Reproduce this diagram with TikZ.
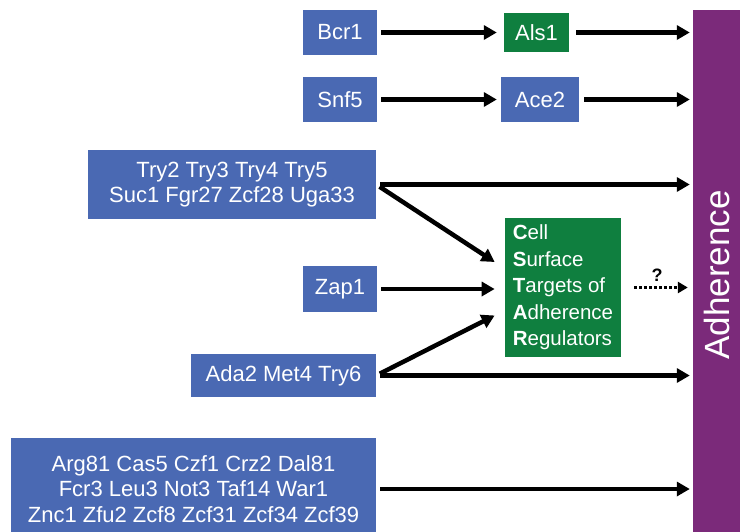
\documentclass[tikz,border=0pt]{standalone}
\usepackage{fontspec}
\setmainfont{Liberation Sans}
\usepackage{tikz}
\usetikzlibrary{arrows.meta,calc}
\definecolor{RegBlue}{HTML}{4A69B3}
\definecolor{TargetGreen}{HTML}{0F7F3F}
\definecolor{AdhPurple}{HTML}{7B2A7A}

\begin{document}
\begin{tikzpicture}[
      x=1pt, y=-1pt,
      rbox/.style={rectangle, fill=RegBlue, text=white, align=center,
                   inner sep=0pt, font=\fontsize{22}{25.5}\selectfont},
      gbox/.style={rectangle, fill=TargetGreen, text=white, align=center,
                   inner sep=0pt, font=\fontsize{22}{25.5}\selectfont},
      bar/.style={rectangle, fill=AdhPurple, text=white, inner sep=0pt,
                  font=\fontsize{35}{40}\selectfont},
      a/.style={-{Triangle[length=13pt,width=14pt]}, line width=4.5pt,
                shorten <=4pt, shorten >=4pt},
      qa/.style={-{Triangle[length=10pt,width=11pt]}, line width=3pt,
                 dash pattern=on 2.5pt off 2.5pt},
    ]
      \useasboundingbox (0,0) rectangle (742,531);
      \clip (0,0) rectangle (742,531);

      \node[bar, minimum width=47, minimum height=530] (adh) at (716.5,275)
           {\rotatebox{90}{Adherence}};

      \node[rbox, minimum width=74, minimum height=45] (bcr) at (340,32.5) {Bcr1};
      \node[gbox, minimum width=65, minimum height=39] (als) at (536.5,32.5) {Als1};
      \node[rbox, minimum width=74, minimum height=45] (snf) at (340,99.5) {Snf5};
      \node[rbox, minimum width=78, minimum height=45] (ace) at (540,99.5) {Ace2};

      \node[rbox, minimum width=288, minimum height=69] (try) at (232,184.5)
           {Try2 Try3 Try4 Try5\\Suc1 Fgr27 Zcf28 Uga33};
      \node[rbox, minimum width=74, minimum height=46] (zap) at (340,289) {Zap1};
      \node[rbox, minimum width=185, minimum height=43] (ada) at (283.5,375.5)
           {Ada2 Met4 Try6};
      \node[rbox, minimum width=365, minimum height=102] (misc) at (193.5,489)
           {Arg81 Cas5 Czf1 Crz2 Dal81\\Fcr3 Leu3 Not3 Taf14 War1\\
            Znc1 Zfu2 Zcf8 Zcf31 Zcf34 Zcf39};

      \node[gbox, align=left, minimum width=112, minimum height=139,
            inner xsep=8pt, font=\fontsize{20.5}{26.5}\selectfont]
           (cstar) at (563,287.5)
           {\textbf{C}ell\\\textbf{S}urface\\\textbf{T}argets of\\
            \textbf{A}dherence\\\textbf{R}egulators};

      \draw[a, shorten >=7pt] (bcr.east) -- (als.west);
      \draw[a, shorten <=7pt, shorten >=3pt] (als.east) -- (als.east -| adh.west);
      \draw[a] (snf.east) -- (ace.west);
      \draw[a, shorten <=5pt, shorten >=3pt] (ace.east) -- (ace.east -| adh.west);

      \draw[a, shorten >=3pt] (try.east) -- (try.east -| adh.west);
      \draw[a, shorten >=0pt] (try.east) -- ($(cstar.west)+(-10,-25.5)$);
      \draw[a, shorten >=10pt] (zap.east) -- (zap.east -| cstar.west);
      \draw[a, shorten >=0pt] (ada.east) -- ($(cstar.west)+(-10,28)$);
      \draw[a, shorten >=3pt] (ada.east) -- (ada.east -| adh.west);
      \draw[a, shorten >=3pt] (misc.east) -- (misc.east -| adh.west);

      \draw[qa, shorten <=13pt, shorten >=5pt] (cstar.east) -- (cstar.east -| adh.west)
           node[midway, above=1pt, font=\fontsize{18}{20}\selectfont\bfseries] {?};
\end{tikzpicture}
\end{document}
